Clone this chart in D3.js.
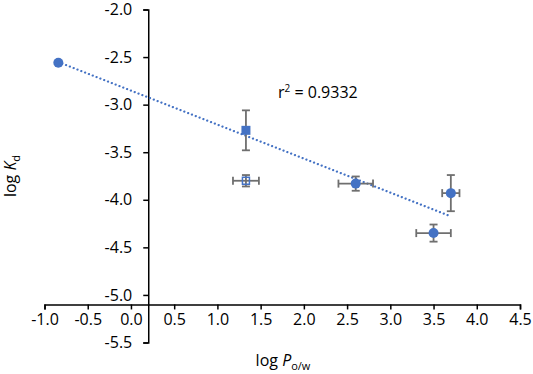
<!DOCTYPE html>
<html>
<head>
<meta charset="utf-8">
<script src="https://cdn.jsdelivr.net/npm/d3@7"></script>
<style>
  body { margin: 0; background: #fff; }
  svg text { font-family: "Open Sans", sans-serif; fill: #000; }
</style>
</head>
<body>
<div id="svg_area"></div>
<script>
// Data
var logP   = [-0.84, 1.33, 1.33, 2.60, 3.50, 3.70];
var logKd  = [-2.56, -3.27, -3.80, -3.83, -4.35, -3.93];
var errP   = [0, 0, 0.15, 0.20, 0.20, 0.10];
var errKd  = [0, 0.21, 0.06, 0.075, 0.09, 0.19];
var marker = ["circle", "square", "open", "circle", "circle", "circle"];
var inFit  = [true, true, false, true, true, true];

var xTicks = [-1.0, -0.5, 0.0, 0.5, 1.0, 1.5, 2.0, 2.5, 3.0, 3.5, 4.0, 4.5];
var yTicks = [-2.0, -2.5, -3.0, -3.5, -4.0, -4.5, -5.0, -5.5];

var svgWidth = 533;
var svgHeight = 374;
var blue = "#4472c4";
var grey = "#6f6f6f";

var svg = d3.select("#svg_area")
  .append("svg")
  .attr("width", svgWidth)
  .attr("height", svgHeight);

var xScale = d3.scaleLinear().domain([-1, 4.5]).range([44.5, 520]);
var yScale = d3.scaleLinear().domain([-2, -5.5]).range([9.5, 342.5]);

// axes cross where Excel put them
var xCross = 0.2;   // y axis sits at x = 0.2
var yCross = -5.1;  // x axis sits at y = -5.1

var fmt = d => d.toFixed(1);

var bottomAxis = d3.axisBottom(xScale).tickValues(xTicks).tickFormat(fmt).tickSize(5).tickPadding(4);
var leftAxis = d3.axisLeft(yScale).tickValues(yTicks).tickFormat(fmt).tickSize(5).tickPadding(11);

var gx = svg.append("g")
  .attr("transform", `translate(0, ${yScale(yCross)})`)
  .call(bottomAxis);

var gy = svg.append("g")
  .attr("transform", `translate(${xScale(xCross)}, 0)`)
  .call(leftAxis);

[gx, gy].forEach(function(g) {
  g.select(".domain").attr("stroke", "#000").attr("stroke-width", 1.5);
  g.selectAll(".tick line").attr("stroke", "#000").attr("stroke-width", 1.5);
  g.selectAll(".tick text")
    .attr("font-family", "Open Sans, sans-serif")
    .attr("font-size", "16px")
    .attr("fill", "#000");
});

// trendline, least squares on filled points
var fx = logP.filter((d, i) => inFit[i]);
var fy = logKd.filter((d, i) => inFit[i]);
var mx = d3.mean(fx), my = d3.mean(fy);
var sxy = d3.sum(fx, (d, i) => (d - mx) * (fy[i] - my));
var sxx = d3.sum(fx, d => (d - mx) * (d - mx));
var slope = sxy / sxx;
var icpt = my - slope * mx;
var x0 = d3.min(fx), x1 = d3.max(fx);

svg.append("line")
  .attr("x1", xScale(x0)).attr("y1", yScale(icpt + slope * x0))
  .attr("x2", xScale(x1)).attr("y2", yScale(icpt + slope * x1))
  .attr("stroke", blue)
  .attr("stroke-width", 2.2)
  .attr("stroke-dasharray", "0.1 4")
  .attr("stroke-linecap", "round");

// error bars
var pts = logP.map((d, i) => ({x: d, y: logKd[i], ex: errP[i], ey: errKd[i], m: marker[i]}));
var cap = 4;
var errG = svg.append("g").attr("stroke", grey).attr("stroke-width", 1.8);

pts.forEach(function(p) {
  if (p.ey > 0) {
    errG.append("line")
      .attr("x1", xScale(p.x)).attr("x2", xScale(p.x))
      .attr("y1", yScale(p.y + p.ey)).attr("y2", yScale(p.y - p.ey));
    [p.y + p.ey, p.y - p.ey].forEach(function(v) {
      errG.append("line")
        .attr("x1", xScale(p.x) - cap).attr("x2", xScale(p.x) + cap)
        .attr("y1", yScale(v)).attr("y2", yScale(v));
    });
  }
  if (p.ex > 0) {
    errG.append("line")
      .attr("x1", xScale(p.x - p.ex)).attr("x2", xScale(p.x + p.ex))
      .attr("y1", yScale(p.y)).attr("y2", yScale(p.y));
    [p.x - p.ex, p.x + p.ex].forEach(function(v) {
      errG.append("line")
        .attr("x1", xScale(v)).attr("x2", xScale(v))
        .attr("y1", yScale(p.y) - cap).attr("y2", yScale(p.y) + cap);
    });
  }
});

// markers
pts.forEach(function(p) {
  if (p.m === "circle") {
    svg.append("circle")
      .attr("cx", xScale(p.x)).attr("cy", yScale(p.y))
      .attr("r", 5)
      .attr("fill", blue);
  } else if (p.m === "square") {
    svg.append("rect")
      .attr("x", xScale(p.x) - 4.5).attr("y", yScale(p.y) - 4.5)
      .attr("width", 9).attr("height", 9)
      .attr("fill", blue);
  } else {
    svg.append("rect")
      .attr("x", xScale(p.x) - 3.5).attr("y", yScale(p.y) - 3.5)
      .attr("width", 7).attr("height", 7)
      .attr("fill", "none")
      .attr("stroke", blue)
      .attr("stroke-width", 1.5);
  }
});

// r squared label
var r2Text = svg.append("text")
  .attr("x", 278).attr("y", 98)
  .attr("font-size", "16px");
r2Text.append("tspan").text("r");
r2Text.append("tspan").attr("dy", -6).attr("font-size", "10px").text("2");
r2Text.append("tspan").attr("dy", 6).text(" = 0.9332");

// axis titles
var xt = svg.append("text")
  .attr("x", 283).attr("y", 366)
  .attr("text-anchor", "middle")
  .attr("font-size", "16px");
xt.append("tspan").text("log ");
xt.append("tspan").attr("font-style", "italic").text("P");
xt.append("tspan").attr("dy", 4).attr("font-size", "11px").text("o/w");

var yt = svg.append("text")
  .attr("transform", "translate(16, 176) rotate(-90)")
  .attr("text-anchor", "middle")
  .attr("font-size", "16px");
yt.append("tspan").text("log ");
yt.append("tspan").attr("font-style", "italic").text("K");
yt.append("tspan").attr("dy", 4).attr("font-size", "11px").text("d");
</script>
</body>
</html>
